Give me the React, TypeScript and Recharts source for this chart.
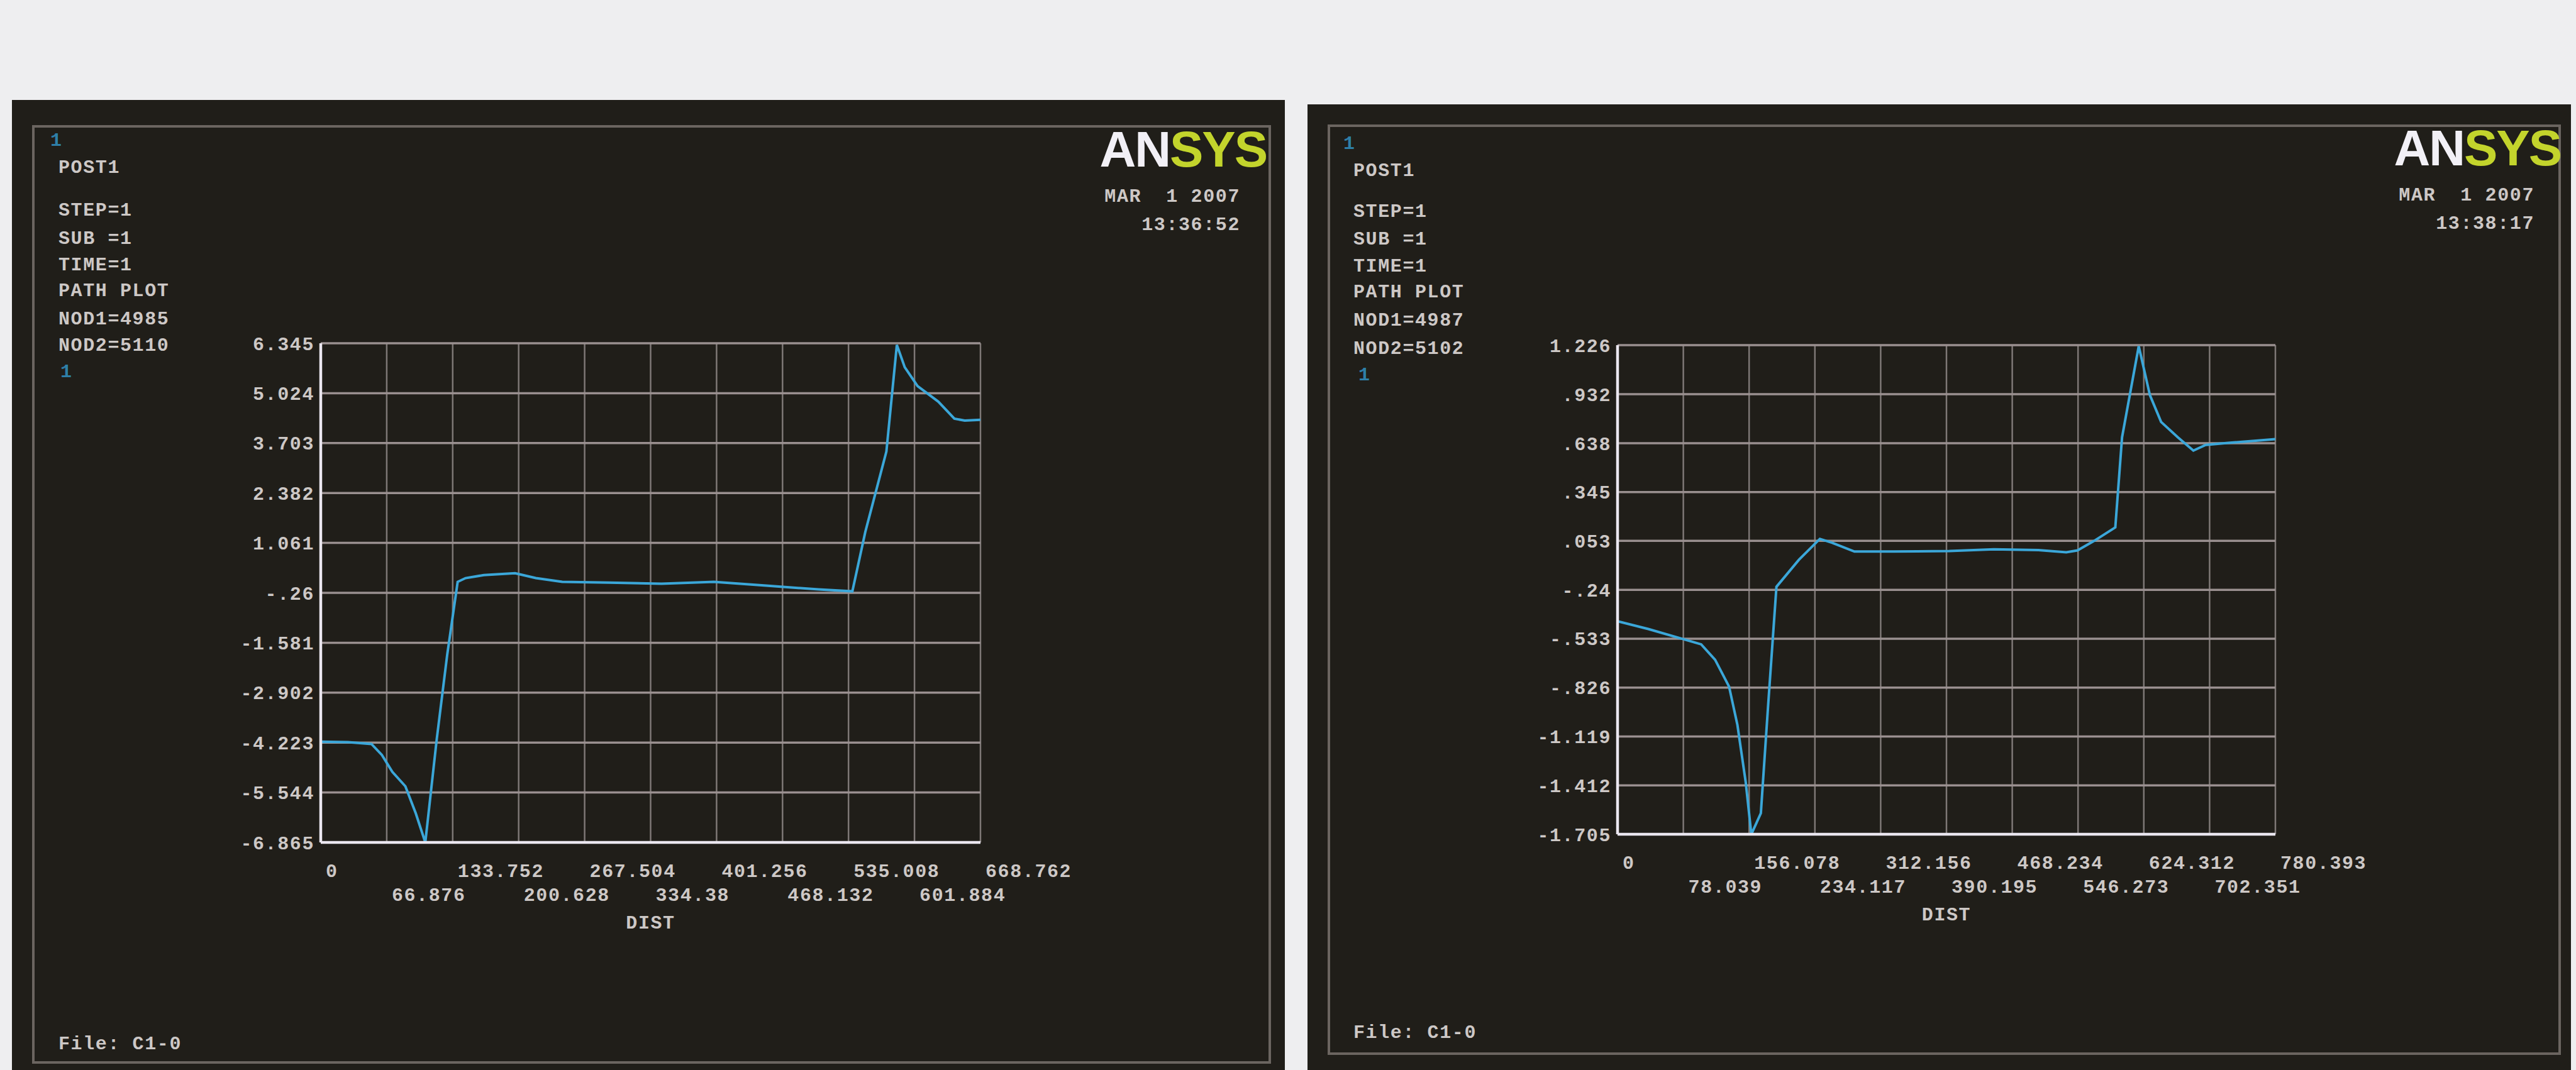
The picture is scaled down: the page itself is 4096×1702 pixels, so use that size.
import React from "react";
import { CartesianGrid, Line, LineChart, XAxis, YAxis } from "recharts";

// path plot 1 (NOD1=4985 -> NOD2=5110)
const leftDist = [
  0, 27.6, 51.4, 62, 72.6, 85.8, 96.4, 106, 117.6, 128.2, 138.8, 146.8, 165.3,
  197, 218, 244.8, 292.5, 345.5, 398.5, 451.5, 504.5, 538.9, 552, 573.4, 584,
  592, 605, 626, 642.3, 652.8, 668.762,
];
const leftValue = [
  -4.2, -4.21, -4.26, -4.55, -5.0, -5.38, -6.1, -6.865, -4.13, -1.9, 0.03, 0.13,
  0.21, 0.26, 0.13, 0.03, 0.01, -0.02, 0.03, -0.07, -0.17, -0.22, 1.35, 3.48,
  6.3, 5.71, 5.21, 4.8, 4.35, 4.3, 4.32,
];
const leftXTicks = [
  0, 66.876, 133.752, 200.628, 267.504, 334.38, 401.256, 468.132, 535.008,
  601.884, 668.762,
];
const leftYTicks = [
  -6.865, -5.544, -4.223, -2.902, -1.581, -0.26, 1.061, 2.382, 3.703, 5.024,
  6.345,
];

// path plot 2 (NOD1=4987 -> NOD2=5102)
const rightDist = [
  0, 36.4, 76, 99.2, 115.7, 132.3, 142.2, 152.1, 158.7, 170, 178.6, 188.5, 215,
  240, 254.6, 281, 327.4, 393.5, 446.4, 499.3, 532.3, 545.6, 565.4, 590.5,
  598.5, 618.3, 631.5, 644.8, 664.6, 683.1, 697.7, 724.1, 780.393,
];
const rightValue = [
  -0.429, -0.475, -0.533, -0.567, -0.659, -0.82, -1.05, -1.395, -1.705, -1.579,
  -0.935, -0.222, -0.061, 0.065, 0.042, -0.011, -0.011, -0.008, 0.003, -0.002,
  -0.015, -0.004, 0.053, 0.134, 0.674, 1.22, 0.927, 0.766, 0.674, 0.594, 0.628,
  0.64, 0.663,
];
const rightXTicks = [
  0, 78.039, 156.078, 234.117, 312.156, 390.195, 468.234, 546.273, 624.312,
  702.351, 780.393,
];
const rightYTicks = [
  -1.705, -1.412, -1.119, -0.826, -0.533, -0.24, 0.053, 0.345, 0.638, 0.932,
  1.226,
];

const leftInfo = ["STEP=1", "SUB =1", "TIME=1", "PATH PLOT", "NOD1=4985", "NOD2=5110"];
const rightInfo = ["STEP=1", "SUB =1", "TIME=1", "PATH PLOT", "NOD1=4987", "NOD2=5102"];
const dateText = "MAR  1 2007";
const leftTime = "13:36:52";
const rightTime = "13:38:17";
const fileText = "File: C1-0";

const FONT = '"Liberation Mono", "DejaVu Sans Mono", monospace';
const TEXT = "#cdc8c6";
const FS = 30;
const LS = 1.6;

// ansys drops the leading zero: -0.26 -> -.26
const fmt = (v: number) =>
  v.toFixed(3).replace(/\.?0+$/, "").replace(/^(-?)0\./, "$1.");

const XTick = (props: any) => {
  const { x, y, payload, index } = props;
  return (
    <text
      x={x + 8}
      y={y + (index % 2 ? 82 : 44)}
      dy="0.35em"
      fill={TEXT}
      fontSize={FS}
      fontFamily={FONT}
      fontWeight="bold"
      letterSpacing={LS}
    >
      {fmt(payload.value)}
    </text>
  );
};

const YTick = (props: any) => {
  const { x, y, payload } = props;
  return (
    <text
      x={x - 10}
      y={y}
      dy="0.35em"
      textAnchor="end"
      fill={TEXT}
      fontSize={FS}
      fontFamily={FONT}
      fontWeight="bold"
      letterSpacing={LS}
    >
      {fmt(payload.value)}
    </text>
  );
};

function Txt({ x, y, children, color = TEXT, align = "left" }: any) {
  const style: React.CSSProperties = {
    position: "absolute",
    top: y - 14,
    fontFamily: FONT,
    fontWeight: "bold",
    fontSize: FS,
    lineHeight: `${FS}px`,
    letterSpacing: LS,
    color,
    whiteSpace: "pre",
  };
  if (align === "right") style.right = 4096 - x;
  else if (align === "center") {
    style.left = x - 200;
    style.width = 400;
    style.textAlign = "center";
  } else style.left = x;
  return <div style={style}>{children}</div>;
}

function Logo({ right, top }: { right: number; top: number }) {
  return (
    <div
      style={{
        position: "absolute",
        right: 4096 - right,
        top,
        fontFamily: '"Liberation Sans", Arial, sans-serif',
        fontWeight: "bold",
        fontSize: 80,
        lineHeight: "80px",
        letterSpacing: -2,
      }}
    >
      <span style={{ color: "#f2f0f6" }}>AN</span>
      <span style={{ color: "#c3d42c" }}>SYS</span>
    </div>
  );
}

function PathChart({ plot, dist, value, xTicks, yTicks }: any) {
  const data = dist.map((d: number, i: number) => ({ x: d, y: value[i] }));
  const padL = 140;
  const padT = 30;
  const padR = 160;
  const padB = 150;
  return (
    <div style={{ position: "absolute", left: plot.x - padL, top: plot.y - padT }}>
      <LineChart
        width={plot.w + padL + padR}
        height={plot.h + padT + padB}
        data={data}
        margin={{ top: padT, right: padR, bottom: 0, left: 0 }}
      >
        <CartesianGrid horizontal={false} stroke="#7e7876" strokeWidth={2.5} />
        <CartesianGrid vertical={false} stroke="#9a9090" strokeWidth={3.5} />
        <XAxis
          dataKey="x"
          type="number"
          domain={[xTicks[0], xTicks[xTicks.length - 1]]}
          ticks={xTicks}
          interval={0}
          allowDataOverflow
          height={padB}
          tickSize={0}
          tickMargin={0}
          tickLine={false}
          axisLine={{ stroke: "#ebe7f0", strokeWidth: 4.5 }}
          tick={<XTick />}
        />
        <YAxis
          type="number"
          domain={[yTicks[0], yTicks[yTicks.length - 1]]}
          ticks={yTicks}
          interval={0}
          allowDataOverflow
          width={padL}
          tickSize={0}
          tickMargin={0}
          tickLine={false}
          axisLine={{ stroke: "#ebe7f0", strokeWidth: 4.5 }}
          tick={<YTick />}
        />
        <Line
          dataKey="y"
          type="linear"
          stroke="#3ba7d9"
          strokeWidth={4}
          dot={false}
          isAnimationActive={false}
        />
      </LineChart>
    </div>
  );
}

function Panel(p: any) {
  const { outer, inner, plot, textX, rows, info, dateRight, dateY, time, logoTop, fileY, cyanX } = p;
  return (
    <>
      <div
        style={{
          position: "absolute",
          left: outer.x,
          top: outer.y,
          width: outer.w,
          height: outer.h,
          background: "#201e19",
        }}
      />
      <div
        style={{
          position: "absolute",
          left: inner.x,
          top: inner.y,
          width: inner.w,
          height: inner.h,
          border: "4px solid #6b6560",
          boxSizing: "border-box",
        }}
      />
      <Txt x={cyanX[0]} y={rows[0] - 43} color="#2e7fa8">1</Txt>
      <Txt x={textX} y={rows[0]}>POST1</Txt>
      {info.map((t: string, i: number) => (
        <Txt key={t + i} x={textX} y={rows[i + 1]}>
          {t}
        </Txt>
      ))}
      <Txt x={cyanX[1]} y={rows[rows.length - 1] + 42} color="#2e7fa8">1</Txt>
      <Logo right={dateRight + 42} top={logoTop} />
      <Txt x={dateRight} y={dateY} align="right">{dateText}</Txt>
      <Txt x={dateRight} y={dateY + 45} align="right">{time}</Txt>
      <Txt x={plot.x + plot.w / 2} y={plot.y + plot.h + 128} align="center">DIST</Txt>
      <Txt x={textX} y={fileY}>{fileText}</Txt>
      <PathChart plot={plot} dist={p.dist} value={p.value} xTicks={p.xTicks} yTicks={p.yTicks} />
    </>
  );
}

export default function App() {
  return (
    <div
      style={{
        position: "absolute",
        left: 0,
        top: 0,
        width: 4096,
        height: 1702,
        background: "#eeeef0",
        overflow: "hidden",
      }}
    >
      <Panel
        outer={{ x: 19, y: 159, w: 2024, h: 1600 }}
        inner={{ x: 51, y: 199, w: 1970, h: 1493 }}
        plot={{ x: 510, y: 546, w: 1049, h: 794 }}
        textX={93}
        rows={[266, 334, 379, 421, 462, 507, 549]}
        info={leftInfo}
        dateRight={1972}
        dateY={312}
        time={leftTime}
        logoTop={198}
        fileY={1660}
        cyanX={[80, 96]}
        dist={leftDist}
        value={leftValue}
        xTicks={leftXTicks}
        yTicks={leftYTicks}
      />
      <Panel
        outer={{ x: 2079, y: 166, w: 2009, h: 1600 }}
        inner={{ x: 2111, y: 198, w: 1961, h: 1480 }}
        plot={{ x: 2572, y: 549, w: 1046, h: 778 }}
        textX={2152}
        rows={[271, 336, 380, 423, 464, 509, 554]}
        info={rightInfo}
        dateRight={4030}
        dateY={310}
        time={rightTime}
        logoTop={196}
        fileY={1642}
        cyanX={[2136, 2160]}
        dist={rightDist}
        value={rightValue}
        xTicks={rightXTicks}
        yTicks={rightYTicks}
      />
    </div>
  );
}
